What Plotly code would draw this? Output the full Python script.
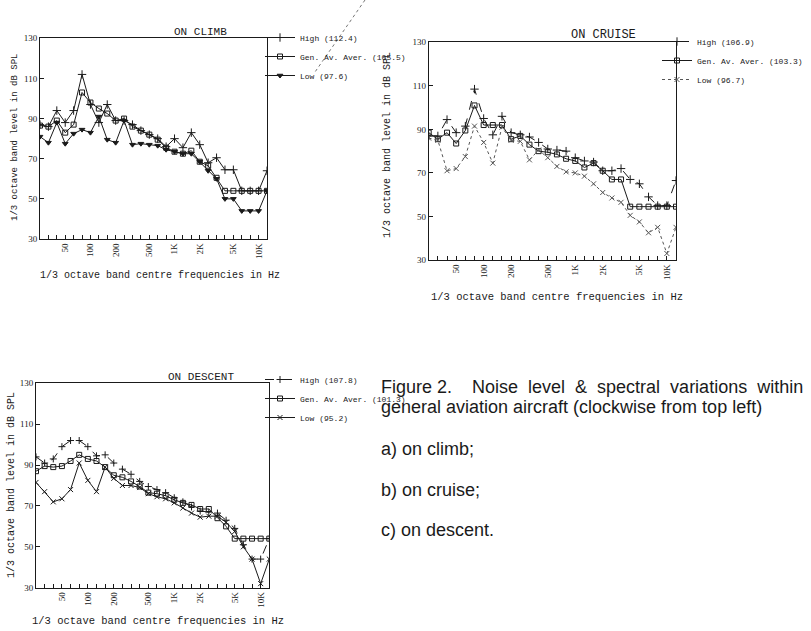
import plotly.graph_objects as go

# 1/3 octave band centre frequencies (Hz)
bands = ["25", "31.5", "40", "50", "63", "80", "100", "125", "160", "200", "250", "315",
         "400", "500", "630", "800", "1K", "1.25K", "1.6K", "2K", "2.5K", "3.15K", "4K",
         "5K", "6.3K", "8K", "10K", "12.5K"]
labelled_bands = ["50", "100", "200", "500", "1K", "2K", "5K", "10K"]
y_ticks = [30, 50, 70, 90, 110, 130]

# ON CLIMB
climb_high = [87, 86, 94, 88, 94, 112, 97, 88, 97, 89, 89, 87, 84, 82, 80, 76, 80, 75.5,
              83, 77, 68, 70.5, 64.5, 64.5, 54, 54, 54, 64]
climb_aver = [86.5, 86, 89, 83, 87, 103, 98, 95, 92.5, 89, 90, 86, 84, 82, 79.5, 75.5, 73.5,
              72.5, 74, 68.5, 66.5, 60.5, 54, 54, 54, 54, 54, 54]
climb_low = [81, 78, 88, 77.5, 82.5, 84.5, 83, 91, 79.5, 78, 89, 77, 77.5, 77, 76.5, 74.5,
             73.5, 72.5, 72.5, 68.5, 64, 60, 50, 50, 44, 44, 44, 54]
climb_names = ["High (112.4)", "Gen. Av. Aver. (105.5)", "Low (97.6)"]

# ON CRUISE
cruise_high = [87, 87, 94.5, 88.5, 91.5, 108.5, 95, 87.5, 96, 88.5, 87.5, 86.5, 84, 81, 80.5,
               80, 77, 75.5, 75, 71, 71, 72, 67, 65, 59, 55, 55, 66.5]
cruise_aver = [88.5, 85.5, 88.5, 83.5, 89.5, 101, 92, 92, 92, 85.5, 87, 83, 80, 79.5, 78.5,
               76.5, 75.5, 72.5, 74.5, 71, 67, 67, 54.5, 54.5, 54.5, 54.5, 54.5, 54.5]
cruise_low = [86, 85, 71, 72, 77.5, 91.5, 84, 74.5, 91, 85, 84.5, 76, 80.5, 77, 73, 70.5,
              70, 68.5, 65, 61, 58.5, 56.5, 50.5, 47.5, 42.5, 45, 33, 45]
cruise_names = ["High (106.9)", "Gen. Av. Aver. (103.3)", "Low (96.7)"]

# ON DESCENT
descent_high = [94, 91, 93, 99, 102, 102, 99, 94.5, 95, 91, 88, 85.5, 82, 79.5, 78, 76.5, 74,
                72, 69.5, 67.5, 67, 66.5, 63, 59, 51, 44, 44, 54]
descent_aver = [87, 89.5, 89, 89.5, 92, 95, 93, 92, 89, 85, 84, 82, 79.5, 76.5, 76, 75, 73,
                71.5, 70.5, 68.5, 68.5, 64, 60, 54, 54, 54, 54, 54]
descent_low = [81.5, 77, 72, 73.5, 78, 91, 82.5, 77, 89, 83.5, 80, 80, 79, 76, 74.5, 73.5,
               71.5, 69, 66.5, 64.5, 65, 65, 62, 57.5, 50, 44, 32, 44]
descent_names = ["High (107.8)", "Gen. Av. Aver. (101.3)", "Low (95.2)"]

W, H = 811, 631
def px(x):
    return x / W
def py(y):
    return 1 - y / H

tick_text = [b if b in labelled_bands else "" for b in bands]
MONO = "Liberation Mono"
SERIF = "Liberation Serif"
SANS = "Liberation Sans"
INK = "#1a1a1a"

fig = go.Figure()

def add_panel(high, aver, low, names, xa, ya, legend, styles):
    series = [high, aver, low]
    for vals, name, st in zip(series, names, styles):
        fig.add_trace(go.Scatter(
            x=bands, y=vals, name=name, mode="lines+markers",
            xaxis=xa, yaxis=ya, legend=legend,
            line=dict(color=st["color"], width=1, dash=st["dash"]),
            marker=dict(symbol=st["symbol"], size=st["size"], color=st["color"],
                        line=dict(width=1, color=st["color"])),
        ))

climb_styles = [
    dict(color=INK, dash="solid", symbol="cross-thin", size=6),
    dict(color=INK, dash="solid", symbol="square-open", size=5),
    dict(color=INK, dash="solid", symbol="triangle-down", size=5),
]
cruise_styles = [
    dict(color=INK, dash="dash", symbol="cross-thin", size=6),
    dict(color=INK, dash="solid", symbol="square-open", size=5),
    dict(color="#555555", dash="dot", symbol="x-thin", size=5),
]
descent_styles = [
    dict(color=INK, dash="dash", symbol="cross-thin", size=5),
    dict(color=INK, dash="solid", symbol="square-open", size=5),
    dict(color=INK, dash="solid", symbol="x-thin", size=5),
]

add_panel(climb_high, climb_aver, climb_low, climb_names, "x", "y", "legend", climb_styles)
add_panel(cruise_high, cruise_aver, cruise_low, cruise_names, "x2", "y2", "legend2", cruise_styles)
add_panel(descent_high, descent_aver, descent_low, descent_names, "x3", "y3", "legend3", descent_styles)

def xaxis(domain, anchor):
    return dict(domain=domain, anchor=anchor, type="category", range=[0, 27],
                tickmode="array", tickvals=bands, ticktext=tick_text, tickangle=-90,
                ticks="inside", ticklen=4, tickcolor=INK, showline=True, mirror=True,
                linecolor=INK, linewidth=1, showgrid=False, zeroline=False,
                automargin=False, tickfont=dict(family=SERIF, size=9, color=INK))

def yaxis(domain, anchor):
    return dict(domain=domain, anchor=anchor, range=[30, 130], tickmode="array",
                tickvals=y_ticks, ticks="inside", ticklen=4, tickcolor=INK,
                showline=True, mirror=True, linecolor=INK, linewidth=1,
                showgrid=False, zeroline=False, automargin=False,
                tickfont=dict(family=SERIF, size=9, color=INK))

def legend_box(x, y):
    return dict(x=px(x), y=py(y), xanchor="left", yanchor="top", bgcolor="rgba(0,0,0,0)",
                font=dict(family=MONO, size=8, color=INK), tracegroupgap=0,
                itemwidth=30, borderwidth=0)

annotations = []
def text(x, y, s, size, family=MONO, angle=0, xanchor="center", color=INK):
    annotations.append(dict(x=px(x), y=py(y), xref="paper", yref="paper", text=s,
                            showarrow=False, textangle=angle, xanchor=xanchor,
                            yanchor="middle", font=dict(family=family, size=size, color=color)))

# panel titles
text(200, 32, "ON CLIMB", 11)
text(603, 35, "ON CRUISE", 12)
text(201, 377, "ON DESCENT", 11)
# axis titles
xt = "1/3 octave band centre frequencies in Hz"
yt = "1/3 octave band level in dB SPL"
text(160, 275, xt, 10)
text(557, 297, xt, 10.5)
text(158, 621, xt, 10.5)
text(15, 138, yt, 9, angle=-90)
text(387, 145, yt, 10, angle=-90)
text(11, 485, yt, 10, angle=-90)
# caption
NB = "&nbsp;"
text(379, 387, "Figure 2." + NB * 3 + " Noise" + NB + " level" + NB + " &amp;" + NB +
     " spectral" + NB + " variations" + NB + " within", 18, SANS, xanchor="left")
text(379, 407, "general aviation aircraft (clockwise from top left)", 18, SANS, xanchor="left")
text(379, 449, "a) on climb;", 18, SANS, xanchor="left")
text(379, 490, "b) on cruise;", 18, SANS, xanchor="left")
text(379, 530, "c) on descent.", 18, SANS, xanchor="left")

fig.update_layout(
    width=W, height=H, margin=dict(l=0, r=0, t=0, b=0),
    template="none", paper_bgcolor="white", plot_bgcolor="white",
    showlegend=True,
    xaxis=xaxis([px(40), px(267)], "y"),
    yaxis=yaxis([py(239), py(38.3)], "x"),
    xaxis2=xaxis([px(428.7), px(676)], "y2"),
    yaxis2=yaxis([py(260), py(42.3)], "x2"),
    xaxis3=xaxis([px(36), px(269.3)], "y3"),
    yaxis3=yaxis([py(587.7), py(383.3)], "x3"),
    legend=legend_box(260, 23),
    legend2=legend_box(657, 27),
    legend3=legend_box(260, 365),
    annotations=annotations,
    shapes=[dict(type="line", xref="paper", yref="paper", x0=px(365), y0=py(0),
                 x1=px(315), y1=py(72), line=dict(color="#777777", width=1, dash="dot"))],
)

fig.write_html("out.html", config={"displayModeBar": False},
               post_script="document.body.style.margin='0px';")
